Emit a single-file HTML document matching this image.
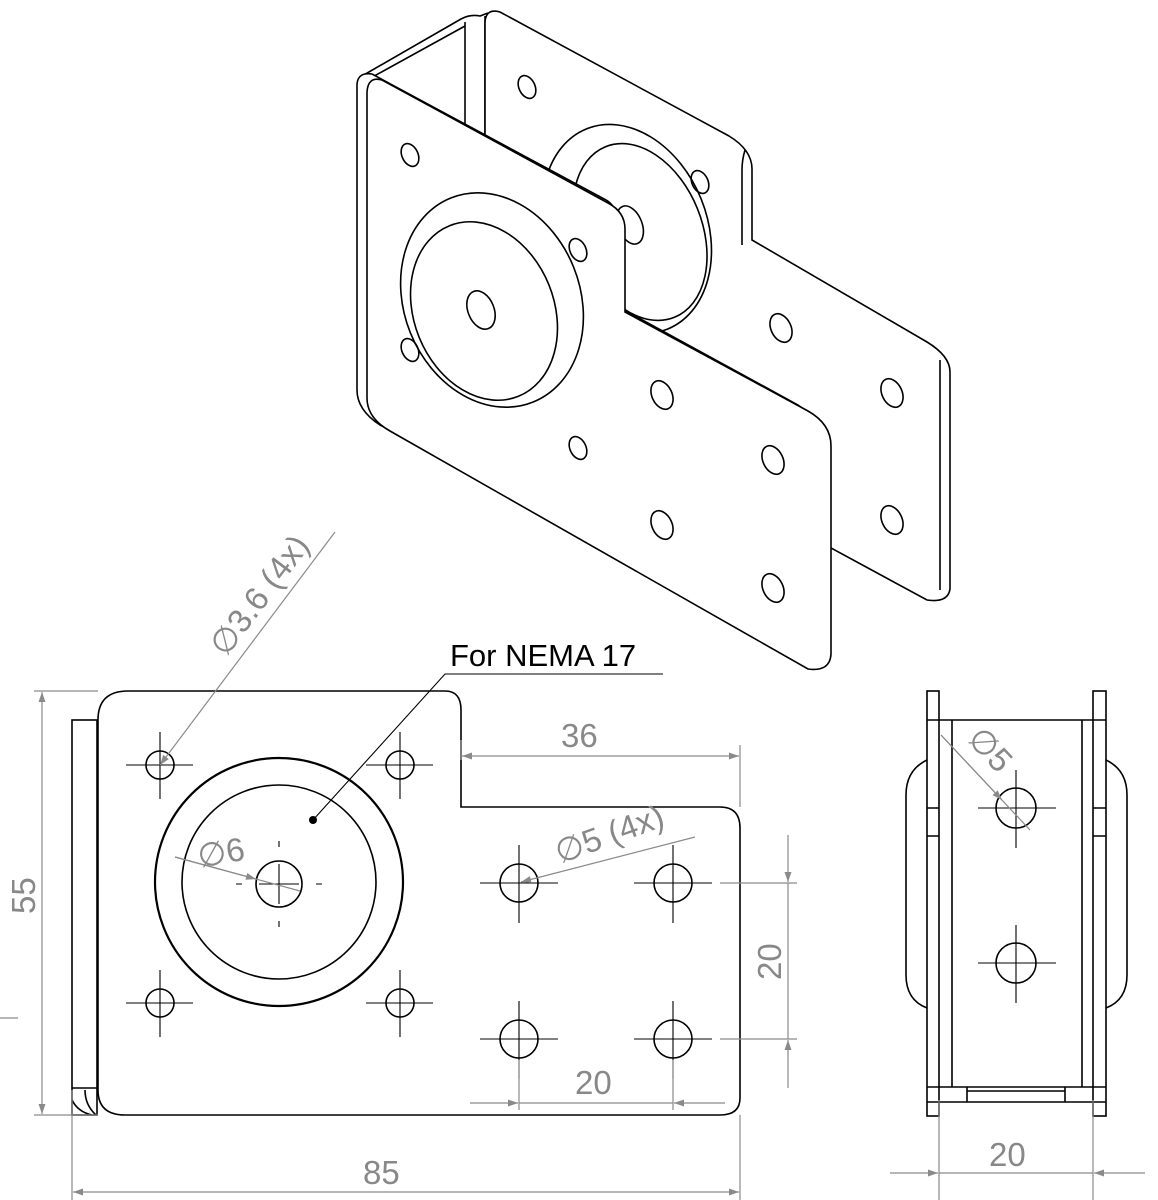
<!DOCTYPE html>
<html><head><meta charset="utf-8"><style>
html,body{margin:0;padding:0;background:#fff;width:1158px;height:1200px;overflow:hidden}
svg{display:block}
.k{fill:none;stroke:#000;stroke-width:1.6}
.kw{fill:#fff;stroke:#000;stroke-width:1.6}
.g{fill:none;stroke:#8a8a8a;stroke-width:1.2}
.c{stroke:#000;stroke-width:1.1}
.t{font-family:"Liberation Sans",sans-serif;fill:#888;font-size:33px}
</style></head><body>
<svg width="1158" height="1200" viewBox="0 0 1158 1200">
<defs>
<marker id="a" viewBox="0 0 10 10" refX="10" refY="5" markerWidth="22" markerHeight="10" markerUnits="userSpaceOnUse" orient="auto"><path d="M0,1.5 L10,5 L0,8.5z" fill="#8a8a8a"/></marker>
</defs>

<!-- ISOMETRIC VIEW -->
<path class="k" d="M362,76 L461,19 Q470,14 480,16 L488,13"/>
<path class="k" d="M367,80 L465,26"/>
<line class="k" x1="465" y1="22" x2="465" y2="125"/>
<line class="k" x1="485" y1="16" x2="485" y2="135"/>
<!-- back plate -->
<path class="kw" d="M485,22 Q486,8 500,12 L729,136 Q752,150 752,169 L752,240 L927,342 Q950,356 950,372 L950,589 Q948,603 927,600 L831,548 L615,320 L600,215 L485,150 Z"/>
<path class="k" d="M745,150 Q742,160 742,170 L742,245 M940,360 L940,590"/>
<!-- back boss -->
<ellipse class="kw" cx="627" cy="229" rx="80" ry="108" transform="rotate(-22 627 229)"/>
<ellipse class="k" cx="640" cy="232" rx="62" ry="92" transform="rotate(-22 640 232)"/>
<ellipse class="k" cx="630" cy="225" rx="12" ry="20" transform="rotate(-22 630 225)"/>
<g class="k">
<ellipse cx="527" cy="87" rx="8" ry="12" transform="rotate(-25 527 87)"/>
<ellipse cx="700" cy="182" rx="8" ry="12" transform="rotate(-25 700 182)"/>
<ellipse cx="781" cy="328" rx="10" ry="15" transform="rotate(-25 781 328)"/>
<ellipse cx="892" cy="393" rx="10" ry="15" transform="rotate(-25 892 393)"/>
<ellipse cx="892" cy="520" rx="10" ry="15" transform="rotate(-25 892 520)"/>
</g>
<!-- front plate thickness -->
<path class="kw" d="M357,84 Q358,72 372,74 L606,200 Q615,205 615,215 L615,305 L798,405 Q821,420 821,440 L821,650 L380,425 Q357,410 357,390 Z"/>
<!-- front plate -->
<path class="kw" d="M367,92 Q368,76 382,80 L608,203 Q625,212 625,229 L625,312 L808,411 Q831,424 831,446 L831,654 Q830,672 808,669 L390,431 Q367,418 367,398 Z"/>
<ellipse class="k" cx="492" cy="300" rx="88" ry="110" transform="rotate(-22 492 300)"/>
<ellipse class="k" cx="484" cy="311" rx="70" ry="92" transform="rotate(-22 484 311)"/>
<ellipse class="k" cx="481" cy="310" rx="13" ry="20" transform="rotate(-22 481 310)"/>
<g class="k">
<ellipse cx="410" cy="155" rx="8" ry="12" transform="rotate(-25 410 155)"/>
<ellipse cx="410" cy="350" rx="8" ry="12" transform="rotate(-25 410 350)"/>
<ellipse cx="578" cy="250" rx="8" ry="12" transform="rotate(-25 578 250)"/>
<ellipse cx="578" cy="448" rx="8" ry="12" transform="rotate(-25 578 448)"/>
<ellipse cx="662" cy="395" rx="10" ry="15" transform="rotate(-25 662 395)"/>
<ellipse cx="662" cy="525" rx="10" ry="15" transform="rotate(-25 662 525)"/>
<ellipse cx="773" cy="460" rx="10" ry="15" transform="rotate(-25 773 460)"/>
<ellipse cx="773" cy="588" rx="10" ry="15" transform="rotate(-25 773 588)"/>
</g>

<!-- FRONT VIEW -->
<rect class="k" x="72" y="720" width="25" height="395"/>
<path class="kw" d="M98,720 Q98,691 128,691 L445,691 Q461,691 461,710 L461,807 L720,807 Q740,807 740,828 L740,1098 Q740,1115 720,1115 L125,1115 Q98,1115 98,1090 Z"/>
<path class="k" d="M72,1088 L97,1088 M72,1100 Q78,1112 92,1115 M85,1090 Q85,1105 96,1115"/>
<circle class="k" cx="279" cy="882" r="124" style="stroke-width:2.2"/>
<circle class="k" cx="279" cy="882" r="97"/>
<circle class="k" cx="279" cy="884" r="23"/>
<path class="c" d="M259,884h40 M279,864v40 M236,884h6 M316,884h6 M279,841v6 M279,921v6"/>
<g class="k">
<circle cx="160" cy="765" r="14"/><circle cx="400" cy="765" r="14"/>
<circle cx="160" cy="1003" r="14"/><circle cx="400" cy="1003" r="14"/>
<circle cx="519" cy="883" r="19"/><circle cx="673" cy="883" r="19"/>
<circle cx="519" cy="1039" r="19"/><circle cx="673" cy="1039" r="19"/>
</g>
<path class="c" d="M126,765h67 M160,732v67 M366,765h67 M400,732v67 M126,1003h67 M160,970v67 M366,1003h67 M400,970v67
M480,883h78 M519,845v78 M634,883h78 M673,845v78 M480,1039h78 M519,1001v78 M634,1039h78 M673,1001v78"/>
<text x="450" y="666" style="font-family:'Liberation Sans',sans-serif;font-size:31px;fill:#000">For NEMA 17</text>
<path class="c" d="M663,674 L445,674 L313,820" fill="none"/>
<circle cx="313" cy="820" r="4" fill="#000"/>

<path class="g" d="M335,532 L160,765" marker-end="url(#a)"/>
<text class="t" transform="translate(226,658) rotate(-53)">∅3.6 (4x)</text>
<path class="g" d="M34,691 L98,691 M34,1115 L98,1115"/>
<path class="g" d="M42,900 L42,692" marker-end="url(#a)"/>
<path class="g" d="M42,900 L42,1114" marker-end="url(#a)"/>
<text class="t" transform="translate(35,914) rotate(-90)">55</text>
<path class="g" d="M0,1018 L18,1018"/>
<path class="g" d="M72,1090 L72,1200 M740,1115 L740,1200 M461,740 L461,760 M740,745 L740,807"/>
<path class="g" d="M400,1192 L73,1192" marker-end="url(#a)"/>
<path class="g" d="M400,1192 L739,1192" marker-end="url(#a)"/>
<text class="t" x="363" y="1184">85</text>
<path class="g" d="M600,756 L462,756" marker-end="url(#a)"/>
<path class="g" d="M600,756 L739,756" marker-end="url(#a)"/>
<text class="t" x="561" y="747">36</text>
<path class="g" d="M720,883 L797,883 M720,1039 L797,1039"/>
<path class="g" d="M788,835 L788,882" marker-end="url(#a)"/>
<path class="g" d="M788,1088 L788,1040" marker-end="url(#a)"/>
<path class="g" d="M788,883 L788,1039"/>
<text class="t" transform="translate(781,980) rotate(-90)">20</text>
<path class="g" d="M519,1060 L519,1110 M673,1060 L673,1110"/>
<path class="g" d="M470,1103 L518,1103" marker-end="url(#a)"/>
<path class="g" d="M725,1103 L674,1103" marker-end="url(#a)"/>
<path class="g" d="M519,1103 L673,1103"/>
<text class="t" x="575" y="1094">20</text>
<path class="g" d="M695,837 L521,882" marker-end="url(#a)"/>
<text class="t" transform="translate(560,864) rotate(-20)">∅5 (4x)</text>
<path class="g" d="M175,857 L300,891"/>
<path class="g" d="M175,857 L256,879" marker-end="url(#a)"/>
<text class="t" x="197" y="864" transform="rotate(-10 220 850)">∅6</text>

<!-- SIDE VIEW -->
<path class="k" d="M927,760 Q906,770 906,795 L906,975 Q906,1000 927,1008 M1106,760 Q1127,770 1127,795 L1127,975 Q1127,1000 1106,1008"/>
<rect class="k" x="927" y="691" width="12" height="425"/>
<rect class="k" x="1093" y="691" width="13" height="425"/>
<path class="k" d="M927,720 L1106,720 M952,720 L952,1087 M1082,720 L1082,1087 M927,1087 L1106,1087 M927,1102 L1106,1102 M927,808 L939,808 M927,836 L939,836 M1093,808 L1106,808 M1093,836 L1106,836"/>
<path class="k" d="M967,1087 L967,1102 M1065,1087 L1065,1102 M967,1091 L1065,1091"/>
<circle class="k" cx="1016" cy="808" r="20"/>
<circle class="k" cx="1016" cy="963" r="20"/>
<path class="c" d="M978,808h78 M1016,770v78 M978,963h78 M1016,925v78"/>
<path class="g" d="M941,735 L1030,830"/>
<path class="g" d="M941,735 L1002,800" marker-end="url(#a)"/>
<text class="t" transform="translate(966,740) rotate(47)">∅5</text>
<path class="g" d="M939,1100 L939,1200 M1093,1100 L1093,1200"/>
<path class="g" d="M890,1173 L938,1173" marker-end="url(#a)"/>
<path class="g" d="M1145,1173 L1094,1173" marker-end="url(#a)"/>
<path class="g" d="M939,1173 L1093,1173"/>
<text class="t" x="989" y="1166">20</text>
</svg>
</body></html>
